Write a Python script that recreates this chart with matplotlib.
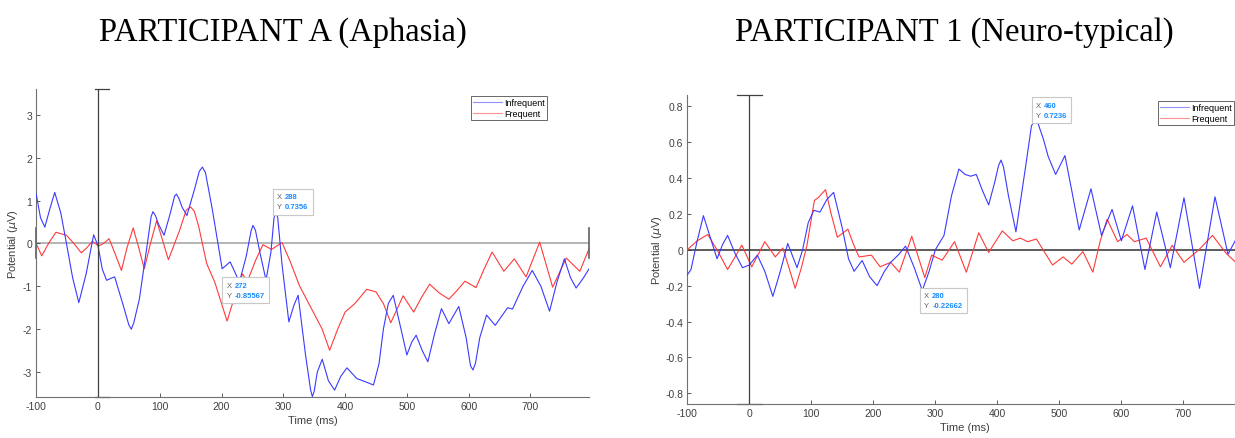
import numpy as np
import matplotlib
matplotlib.use("Agg")
from matplotlib import pyplot as plt
from matplotlib.offsetbox import AnnotationBbox, HPacker, TextArea

# readings: (time ms, potential uV)
left_infrequent = [(-100, 1.15), (-93, 0.6), (-86, 0.38), (-78, 0.8), (-70, 1.19), (-60, 0.7),
    (-51, 0.0), (-41, -0.8), (-31, -1.38), (-19, -0.7), (-7, 0.2), (0, -0.05), (7, -0.6),
    (14, -0.86), (20, -0.82), (27, -0.78), (40, -1.4), (50, -1.9), (54, -2.0), (58, -1.85),
    (67, -1.3), (80, 0.0), (86, 0.62), (89, 0.74), (93, 0.65), (98, 0.45), (107, 0.19),
    (117, 0.7), (124, 1.1), (127, 1.15), (131, 1.05), (136, 0.85), (144, 0.65), (157, 1.3),
    (164, 1.68), (169, 1.78), (174, 1.65), (185, 0.8), (201, -0.59), (214, -0.43), (229, -0.9),
    (240, -0.3), (248, 0.3), (251, 0.42), (255, 0.3), (262, -0.2), (272, -0.856), (280, -0.2),
    (285, 0.6), (288, 0.736), (291, 0.6), (298, -0.5), (309, -1.83), (317, -1.45),
    (324, -1.21), (336, -2.6), (344, -3.4), (347, -3.57), (350, -3.45), (355, -3.0),
    (363, -2.7), (373, -3.2), (383, -3.42), (393, -3.1), (403, -2.9), (419, -3.15),
    (432, -3.22), (446, -3.3), (455, -2.8), (462, -2.0), (470, -1.4), (478, -1.21),
    (489, -1.9), (500, -2.6), (508, -2.3), (515, -2.14), (525, -2.5), (534, -2.76),
    (545, -2.1), (556, -1.52), (568, -1.87), (584, -1.47), (596, -2.2), (603, -2.85),
    (607, -2.95), (611, -2.8), (618, -2.2), (629, -1.67), (643, -1.91), (663, -1.5),
    (671, -1.53), (688, -1.0), (703, -0.63), (717, -1.0), (731, -1.58), (743, -0.9),
    (755, -0.36), (765, -0.8), (774, -1.04), (786, -0.8), (795, -0.59)]

left_frequent = [(-100, 0.0), (-91, -0.29), (-80, 0.0), (-68, 0.26), (-51, 0.19), (-39, 0.0),
    (-27, -0.22), (-18, -0.1), (-9, 0.05), (1, -0.06), (9, 0.0), (18, 0.11), (28, -0.25),
    (38, -0.63), (47, -0.1), (57, 0.36), (66, -0.1), (75, -0.59), (85, 0.0), (95, 0.53),
    (104, 0.1), (114, -0.38), (132, 0.3), (143, 0.78), (150, 0.85), (156, 0.75), (163, 0.4),
    (176, -0.47), (189, -0.9), (200, -1.4), (209, -1.81), (222, -1.2), (234, -0.71),
    (242, -0.88), (255, -0.4), (267, -0.03), (281, -0.14), (298, 0.02), (312, -0.45),
    (326, -0.98), (351, -1.67), (363, -2.0), (375, -2.49), (388, -2.0), (400, -1.6),
    (416, -1.4), (435, -1.07), (450, -1.13), (462, -1.4), (474, -1.85), (494, -1.22),
    (511, -1.6), (524, -1.25), (537, -0.95), (552, -1.15), (568, -1.3), (581, -1.1),
    (594, -0.88), (612, -1.03), (625, -0.6), (638, -0.2), (657, -0.65), (674, -0.36),
    (693, -0.78), (715, 0.03), (736, -1.02), (758, -0.34), (780, -0.65), (795, -0.12)]

right_infrequent = [(-100, -0.14), (-94, -0.11), (-84, 0.05), (-74, 0.19), (-63, 0.07),
    (-52, -0.05), (-43, 0.03), (-35, 0.08), (-23, -0.02), (-11, -0.1), (0, -0.085), (13, -0.03),
    (25, -0.12), (38, -0.26), (50, -0.12), (62, 0.035), (77, -0.1), (86, 0.0), (95, 0.15),
    (104, 0.22), (114, 0.21), (125, 0.28), (136, 0.32), (150, 0.12), (160, -0.05), (169, -0.12),
    (182, -0.06), (194, -0.15), (206, -0.2), (218, -0.12), (228, -0.07), (240, -0.03),
    (252, 0.02), (266, -0.1), (279, -0.227), (290, -0.12), (300, 0.0), (314, 0.08), (326, 0.3),
    (338, 0.45), (348, 0.42), (357, 0.41), (366, 0.42), (376, 0.33), (386, 0.25), (396, 0.38),
    (402, 0.47), (406, 0.5), (410, 0.46), (418, 0.3), (430, 0.1), (445, 0.45), (455, 0.69),
    (460, 0.724), (466, 0.7), (474, 0.62), (482, 0.52), (494, 0.42), (509, 0.525), (520, 0.33),
    (532, 0.11), (551, 0.34), (568, 0.08), (585, 0.225), (600, 0.05), (618, 0.245),
    (638, -0.11), (657, 0.21), (679, -0.1), (701, 0.29), (726, -0.215), (751, 0.295),
    (772, -0.025), (786, 0.066), (795, 0.05)]

right_frequent = [(-100, 0.0), (-84, 0.05), (-67, 0.085), (-52, 0.0), (-35, -0.11), (-23, -0.04),
    (-12, 0.026), (4, -0.095), (25, 0.045), (42, -0.04), (54, 0.01), (64, -0.1), (74, -0.215),
    (84, -0.1), (93, 0.025), (105, 0.275), (111, 0.29), (123, 0.335), (132, 0.2), (142, 0.07),
    (159, 0.115), (168, 0.03), (177, -0.04), (197, -0.03), (211, -0.095), (228, -0.07),
    (242, -0.125), (262, 0.075), (283, -0.155), (294, -0.03), (311, -0.058), (331, 0.045),
    (350, -0.125), (370, 0.095), (386, -0.015), (408, 0.105), (425, 0.05), (437, 0.065),
    (449, 0.045), (463, 0.06), (489, -0.085), (506, -0.04), (520, -0.08), (538, -0.01),
    (554, -0.125), (566, 0.05), (577, 0.17), (594, 0.045), (609, 0.085), (621, 0.045),
    (640, 0.065), (663, -0.095), (682, 0.025), (701, -0.07), (725, 0.0), (747, 0.08),
    (769, -0.02), (786, -0.075), (795, -0.09)]

titles = ["PARTICIPANT A (Aphasia)", "PARTICIPANT 1 (Neuro-typical)"]
x_ticks = [-100, 0, 100, 200, 300, 400, 500, 600, 700]
left_yticks = [-3, -2, -1, 0, 1, 2, 3]
right_yticks = [-0.8, -0.6, -0.4, -0.2, 0, 0.2, 0.4, 0.6, 0.8]
left_tips = [(288, 0.7356, "288", "0.7356", "ur"), (272, -0.85567, "272", "-0.85567", "ll")]
right_tips = [(460, 0.7236, "460", "0.7236", "ur"), (280, -0.22662, "280", "-0.22662", "lr")]

plt.rcParams['font.family'] = ['Liberation Sans', 'DejaVu Sans']
plt.rcParams['axes.unicode_minus'] = False
BLUE = '#3a3aff'
RED = '#ff3a3a'
TXT = '#404040'

fig = plt.figure(figsize=(12.35, 4.39), dpi=100)


def draw_tip(ax, x, y, xs, ys, where):
    ax.plot([x], [y], 'o', ms=2.2, color='black', zorder=6)
    lab = TextArea("X\nY", textprops=dict(fontsize=5.5, color='#606060', linespacing=1.6))
    val = TextArea(xs + "\n" + ys, textprops=dict(fontsize=5.5, color='#1a8cff',
                                                  fontweight='bold', linespacing=1.6))
    pack = HPacker(children=[lab, val], pad=0, sep=2, align='baseline')
    off, align = {"ur": ((1, 1), (0, 0)), "ll": ((-1, -1), (1, 1)),
                  "lr": ((1, -1), (0, 1))}[where]
    ab = AnnotationBbox(pack, (x, y), xybox=off, boxcoords='offset points',
                        box_alignment=align, pad=0.45, zorder=7,
                        bboxprops=dict(boxstyle='square', fc='white', ec='#c8c8c8', lw=0.8))
    ax.add_artist(ab)


def panel(rect, inf, freq, ylim, yticks, tips, zero_col, caps, legend_pos, title, title_x, ylab_pad):
    ax = fig.add_axes(rect)
    ti, vi = np.array(inf).T
    tf, vf = np.array(freq).T
    ax.axhline(0, color=zero_col, lw=1.1, zorder=1)
    ax.plot(ti, vi, color=BLUE, lw=0.8, label='Infrequent', zorder=3)
    ax.plot(tf, vf, color=RED, lw=0.8, label='Frequent', zorder=2)
    ax.plot([0, 0], ylim, color='#404040', lw=0.9, zorder=4)
    ax.plot(caps, [ylim[1], ylim[1]], color='#404040', lw=0.9, clip_on=False)
    ax.plot(caps, [ylim[0], ylim[0]], color='#404040', lw=0.9, clip_on=False)
    for x, y, xs, ys, where in tips:
        draw_tip(ax, x, y, xs, ys, where)
    ax.set_xlim(-100, 795)
    ax.set_ylim(*ylim)
    ax.set_xticks(x_ticks)
    ax.set_yticks(yticks)
    ax.set_yticklabels([f"{v:g}" for v in yticks])
    ax.tick_params(direction='in', length=3, width=0.6, labelsize=7.5, colors=TXT, pad=3)
    for s in ['top', 'right']:
        ax.spines[s].set_visible(False)
    for s in ['left', 'bottom']:
        ax.spines[s].set_color('#707070')
        ax.spines[s].set_linewidth(0.8)
    ax.set_xlabel("Time (ms)", fontsize=8, color=TXT, labelpad=3)
    ax.set_ylabel(r"Potential ($\mu$V)", fontsize=8, color=TXT, labelpad=ylab_pad)
    leg = ax.legend(loc='upper right', bbox_to_anchor=legend_pos, fontsize=6.5, frameon=True,
                    fancybox=False, handlelength=3.2, handletextpad=0.2, borderpad=0.25,
                    labelspacing=0.15, borderaxespad=0)
    leg.get_frame().set_edgecolor('#404040')
    leg.get_frame().set_linewidth(0.7)
    for h in leg.get_lines():
        h.set_alpha(0.55)
    fig.text(title_x, 0.925, title, ha='center', va='center', fontsize=23.5,
             family='Liberation Serif', color='black')
    return ax


axl = panel([0.0293, 0.0934, 0.4477, 0.7016], left_infrequent, left_frequent, (-3.58, 3.6),
            left_yticks, left_tips, '#a0a0a0', [-5, 18], (0.924, 0.977), titles[0], 0.229, 2)
# short marks at the ends of the zero line
axl.plot([795, 795], [-0.35, 0.35], color='#606060', lw=1.2, clip_on=False)
axl.plot([-100, -100], [-0.35, 0.35], color='#606060', lw=1.2, clip_on=False)

axr = panel([0.5565, 0.0774, 0.4494, 0.704], right_infrequent, right_frequent, (-0.86, 0.863),
            right_yticks, right_tips, '#303030', [-20, 20], (0.985, 0.98), titles[1], 0.773, 1)

fig.savefig("out.png", dpi=100)
